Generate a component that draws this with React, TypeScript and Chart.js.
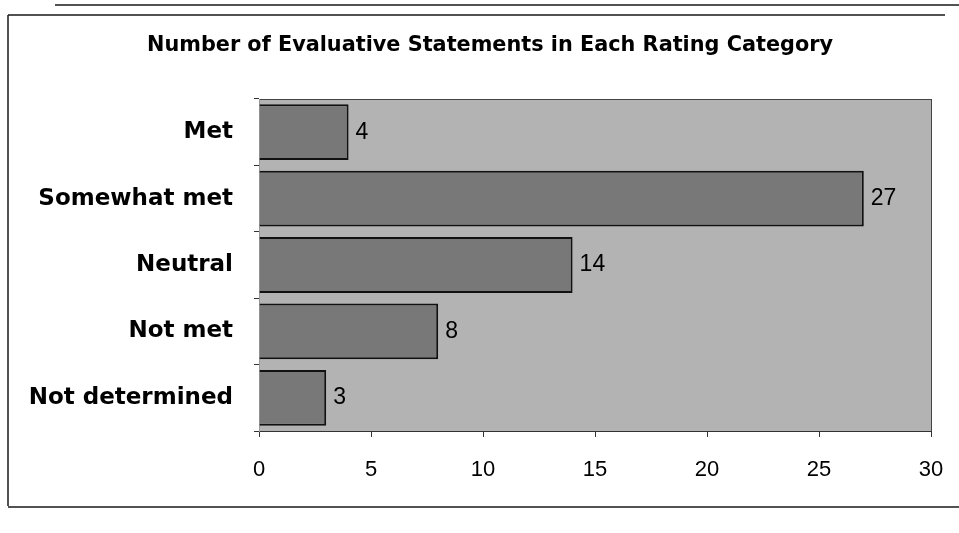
import React, { useEffect, useRef } from "react";
import { Chart, registerables } from "chart.js";

Chart.register(...registerables);

const titleText = "Number of Evaluative Statements in Each Rating Category";
const categories = ["Met", "Somewhat met", "Neutral", "Not met", "Not determined"];
const counts = [4, 27, 14, 8, 3];
const xTicksMin = 0;
const xTicksMax = 30;
const xTickStep = 5;

const W = 959;
const H = 533;

const framePlugin = {
  id: "frame",
  beforeDraw(chart: any) {
    const ctx = chart.ctx;
    const a = chart.chartArea;
    ctx.save();
    ctx.fillStyle = "#ffffff";
    ctx.fillRect(0, 0, W, H);
    // plot background
    ctx.fillStyle = "#b3b3b3";
    ctx.fillRect(a.left, a.top, a.right - a.left, a.bottom - a.top);
    ctx.strokeStyle = "#444";
    ctx.lineWidth = 1;
    ctx.strokeRect(a.left + 0.5, a.top + 0.5, a.right - a.left, a.bottom - a.top);
    // outer frame lines
    ctx.strokeStyle = "#1a1a1a";
    ctx.lineWidth = 1.5;
    ctx.beginPath();
    ctx.moveTo(55, 5);
    ctx.lineTo(959, 5);
    ctx.moveTo(8, 15);
    ctx.lineTo(945, 15);
    ctx.moveTo(8, 15);
    ctx.lineTo(8, 506);
    ctx.moveTo(8, 507);
    ctx.lineTo(959, 507);
    ctx.stroke();
    // title
    ctx.fillStyle = "#000";
    ctx.font = "bold 20.8px 'DejaVu Sans', sans-serif";
    ctx.textAlign = "center";
    ctx.textBaseline = "middle";
    ctx.fillText(titleText, 490, 46);
    ctx.restore();
  },
  afterDatasetsDraw(chart: any) {
    const ctx = chart.ctx;
    const meta = chart.getDatasetMeta(0);
    ctx.save();
    ctx.fillStyle = "#000";
    ctx.font = "23px 'Liberation Sans', Arial, sans-serif";
    ctx.textAlign = "left";
    ctx.textBaseline = "middle";
    meta.data.forEach((bar: any, i: number) => {
      ctx.fillText(String(counts[i]), bar.x + 7, bar.y);
    });
    ctx.restore();
  },
};

export default function App() {
  const ref = useRef<HTMLCanvasElement | null>(null);
  useEffect(() => {
    if (!ref.current) return;
    const chart = new Chart(ref.current, {
      type: "bar",
      data: {
        labels: categories,
        datasets: [
          {
            data: counts,
            backgroundColor: "#787878",
            borderColor: "#111",
            borderWidth: 2,
            barPercentage: 0.84,
            categoryPercentage: 1,
          },
        ],
      },
      options: {
        indexAxis: "y",
        animation: false,
        responsive: false,
        maintainAspectRatio: false,
        layout: { padding: { top: 99, right: 28, bottom: 0, left: 0 } },
        plugins: {
          legend: { display: false },
          tooltip: { enabled: false },
          title: { display: false },
        },
        scales: {
          x: {
            min: xTicksMin,
            max: xTicksMax,
            afterFit(scale: any) {
              scale.height = 102;
              scale.paddingRight = 0;
              scale.paddingLeft = 0;
            },
            ticks: {
              stepSize: xTickStep,
              color: "#000",
              padding: 20,
              font: { family: "'Liberation Sans', Arial, sans-serif", size: 22 },
            },
            grid: {
              drawOnChartArea: false,
              drawTicks: true,
              tickLength: 6,
              color: "#333",
            },
            border: { display: true, color: "#333", width: 1 },
          },
          y: {
            afterFit(scale: any) {
              scale.width = 259;
            },
            ticks: {
              color: "#000",
              padding: 21,
              font: { family: "'DejaVu Sans', sans-serif", size: 23, weight: "bold" },
            },
            grid: {
              drawOnChartArea: false,
              drawTicks: true,
              tickLength: 5,
              offset: true,
              color: "#333",
            },
            border: { display: true, color: "#999", width: 1 },
          },
        },
      },
      plugins: [framePlugin],
    });
    return () => chart.destroy();
  }, []);
  return (
    <div style={{ position: "fixed", left: 0, top: 0, width: W, height: H, background: "#fff" }}>
      <canvas ref={ref} width={W} height={H} style={{ display: "block", width: W, height: H }} />
    </div>
  );
}
